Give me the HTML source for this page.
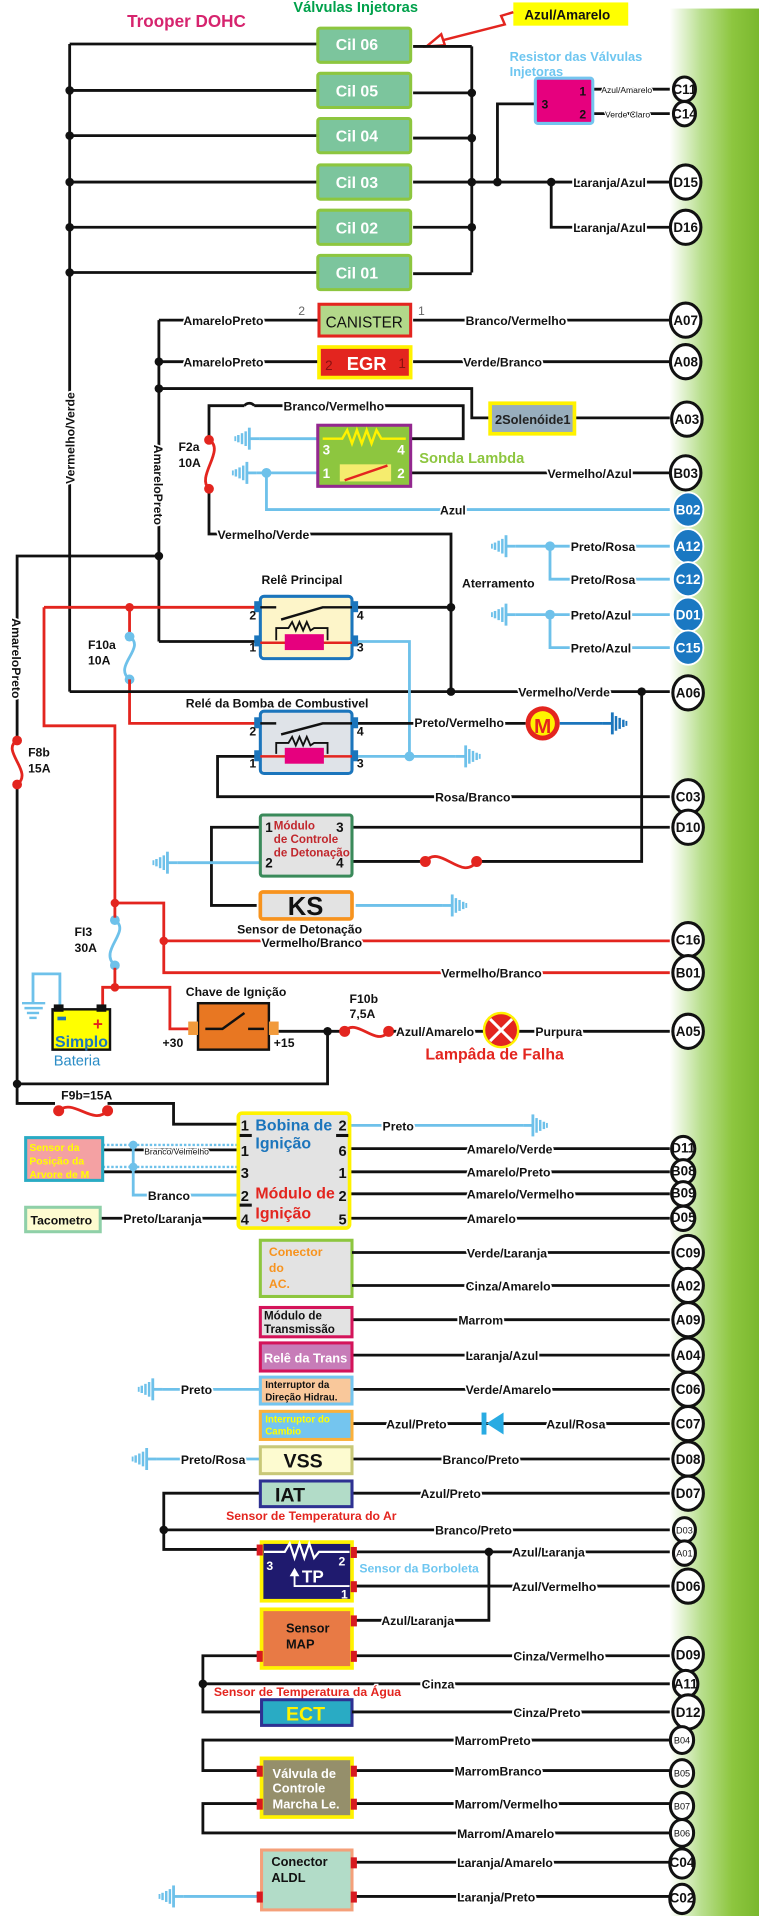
<!DOCTYPE html>
<html><head><meta charset="utf-8"><style>
html,body{margin:0;padding:0;background:#fff;}
svg{display:block;}
text{font-family:"Liberation Sans",sans-serif;}
.l{font-size:10px;font-weight:bold;fill:#111;stroke:#fff;stroke-width:3px;paint-order:stroke;}
.w{fill:none;stroke:#111;stroke-width:2.3;}
.r{fill:none;stroke:#e3251f;stroke-width:2.3;}
.b{fill:none;stroke:#6ec1ea;stroke-width:2.3;}
.c{fill:#fff;stroke:#111;stroke-width:2.5;}
.ct{font-size:11px;font-weight:bold;fill:#111;text-anchor:middle;}
.cs{font-size:7.5px;fill:#111;text-anchor:middle;}
.cb{fill:#1a78c2;stroke:#fff;stroke-width:1.5;}
.cbt{font-size:11px;font-weight:bold;fill:#fff;text-anchor:middle;}
</style></head><body>
<svg width="759" height="1916" viewBox="0 0 621 1568" preserveAspectRatio="none" xmlns="http://www.w3.org/2000/svg">
<defs>
<linearGradient id="gb" x1="0" x2="1" y1="0" y2="0">
<stop offset="0" stop-color="#fff"/><stop offset="0.35" stop-color="#b9df8f"/><stop offset="0.7" stop-color="#8dc63f"/><stop offset="1" stop-color="#7ab82e"/></linearGradient>
<g id="gnd"><line x1="0" y1="0" x2="-8" y2="0" stroke-width="2.3"/><line x1="-8" y1="-9" x2="-8" y2="9" stroke-width="2.3"/><line x1="-11" y1="-6" x2="-11" y2="6" stroke-width="2"/><line x1="-14" y1="-4.5" x2="-14" y2="4.5" stroke-width="2"/><line x1="-17" y1="-3" x2="-17" y2="3" stroke-width="2"/><line x1="-19.5" y1="-2" x2="-19.5" y2="2" stroke-width="1.5"/></g>
</defs>
<rect x="548" y="7" width="73" height="1561" fill="url(#gb)"/>

<!-- header -->
<text x="104" y="22" font-size="14" font-weight="bold" fill="#d6246e">Trooper DOHC</text>
<text x="240" y="10" font-size="12" font-weight="bold" fill="#00a14b">Válvulas Injetoras</text>
<rect x="420" y="2" width="94" height="19" fill="#ffff00"/>
<text x="429" y="16" font-size="11" font-weight="bold" fill="#111">Azul/Amarelo</text>
<polyline points="420,10 410,13 413,20 362,33" fill="none" stroke="#e3251f" stroke-width="2"/>
<polygon points="349,38 361,28 364,37" fill="#fff" stroke="#e3251f" stroke-width="2"/>

<!-- injector buses -->
<line class="w" x1="57" y1="36" x2="57" y2="566"/>
<line class="w" x1="386" y1="38" x2="386" y2="223"/>
<g class="w">
<line x1="57" y1="36" x2="260" y2="36"/><line x1="57" y1="74" x2="260" y2="74"/><line x1="57" y1="111" x2="260" y2="111"/><line x1="57" y1="149" x2="260" y2="149"/><line x1="57" y1="186" x2="260" y2="186"/><line x1="57" y1="223" x2="260" y2="223"/>
<line x1="338" y1="38" x2="386" y2="38"/><line x1="338" y1="76" x2="386" y2="76"/><line x1="338" y1="113" x2="386" y2="113"/><line x1="338" y1="149" x2="548" y2="149"/><line x1="338" y1="186" x2="386" y2="186"/><line x1="338" y1="224" x2="386" y2="224"/>
<polyline points="407,149 407,85 438,85"/><polyline points="451,149 451,186 548,186"/>
</g>
<g fill="#111"><circle cx="57" cy="74" r="3.5"/><circle cx="57" cy="111" r="3.5"/><circle cx="57" cy="149" r="3.5"/><circle cx="57" cy="186" r="3.5"/><circle cx="57" cy="223" r="3.5"/>
<circle cx="386" cy="76" r="3.5"/><circle cx="386" cy="113" r="3.5"/><circle cx="386" cy="149" r="3.5"/><circle cx="386" cy="186" r="3.5"/><circle cx="407" cy="149" r="3.5"/><circle cx="451" cy="149" r="3.5"/></g>
<g>
<rect x="260" y="23" width="76" height="28" rx="2" fill="#7cc59d" stroke="#8dc63f" stroke-width="2.5"/>
<rect x="260" y="60" width="76" height="28" rx="2" fill="#7cc59d" stroke="#8dc63f" stroke-width="2.5"/>
<rect x="260" y="97" width="76" height="28" rx="2" fill="#7cc59d" stroke="#8dc63f" stroke-width="2.5"/>
<rect x="260" y="135" width="76" height="28" rx="2" fill="#7cc59d" stroke="#8dc63f" stroke-width="2.5"/>
<rect x="260" y="172" width="76" height="28" rx="2" fill="#7cc59d" stroke="#8dc63f" stroke-width="2.5"/>
<rect x="260" y="209" width="76" height="28" rx="2" fill="#7cc59d" stroke="#8dc63f" stroke-width="2.5"/>
</g>
<g font-size="13" font-weight="bold" fill="#fff" text-anchor="middle">
<text x="292" y="41">Cil 06</text><text x="292" y="79">Cil 05</text><text x="292" y="116">Cil 04</text><text x="292" y="154">Cil 03</text><text x="292" y="191">Cil 02</text><text x="292" y="228">Cil 01</text></g>
<text class="l" x="469" y="153">Laranja/Azul</text>
<text class="l" x="469" y="190">Laranja/Azul</text>

<!-- resistor -->
<text x="417" y="50" font-size="10.5" fill="#6ec6f0" font-weight="bold">Resistor das Válvulas</text>
<text x="417" y="62" font-size="10.5" fill="#6ec6f0" font-weight="bold">Injetoras</text>
<line class="w" x1="485" y1="73" x2="548" y2="73"/><line class="w" x1="485" y1="93" x2="548" y2="93"/>
<rect x="438" y="64" width="47" height="37" rx="2" fill="#e6007e" stroke="#74c5ef" stroke-width="2.5"/>
<text x="443" y="89" font-size="10" font-weight="bold" fill="#111">3</text><text x="474" y="78" font-size="10" font-weight="bold" fill="#111">1</text><text x="474" y="97" font-size="10" font-weight="bold" fill="#111">2</text>
<text x="492" y="76" font-size="7" fill="#111" stroke="#fff" stroke-width="2" paint-order="stroke">Azul/Amarelo</text>
<text x="495" y="96" font-size="7" fill="#111" stroke="#fff" stroke-width="2" paint-order="stroke">Verde Claro</text>

<!-- canister/egr -->
<line class="w" x1="130" y1="262" x2="130" y2="525"/>
<polyline class="w" points="212,525 130,525"/>
<line class="w" x1="130" y1="262" x2="260" y2="262"/><line class="w" x1="338" y1="262" x2="548" y2="262"/>
<line class="w" x1="130" y1="296" x2="260" y2="296"/><line class="w" x1="338" y1="296" x2="548" y2="296"/>
<polyline class="w" points="130,318 386,318 386,342 401,342"/><line class="w" x1="470" y1="342" x2="548" y2="342"/>
<g fill="#111"><circle cx="130" cy="296" r="3.5"/><circle cx="130" cy="318" r="3.5"/><circle cx="130" cy="455" r="3.5"/></g>
<rect x="261" y="249" width="75" height="26" fill="#b2d88a" stroke="#e3251f" stroke-width="2.5"/>
<text x="298" y="268" font-size="12.5" fill="#111" text-anchor="middle">CANISTER</text>
<text x="244" y="258" font-size="10" fill="#666">2</text><text x="342" y="258" font-size="10" fill="#666">1</text>
<rect x="261" y="284" width="75" height="25" fill="#e3251f" stroke="#fff200" stroke-width="3"/>
<text x="300" y="303" font-size="15" font-weight="bold" fill="#fff" text-anchor="middle">EGR</text>
<text x="266" y="303" font-size="11" fill="#8a1010">2</text><text x="326" y="301" font-size="11" fill="#8a1010">1</text>
<text class="l" x="150" y="266">AmareloPreto</text><text class="l" x="150" y="300">AmareloPreto</text>
<text class="l" x="381" y="266">Branco/Vermelho</text><text class="l" x="379" y="300">Verde/Branco</text>
<rect x="401" y="330" width="69" height="25" fill="#98aebd" stroke="#fff200" stroke-width="3"/>
<text x="405" y="347" font-size="10.5" font-weight="bold" fill="#222">2Solenóide1</text>

<!-- lambda -->
<polyline class="w" points="171,357 171,332 200,332"/>
<path d="M200,332 a5,5 0 0 1 8,0" fill="none" stroke="#111" stroke-width="2.3"/>
<polyline class="w" points="208,332 379,332 379,359 336,359"/>
<text class="l" x="232" y="336">Branco/Vermelho</text>
<polyline class="w" points="171,402 171,437 369,437 369,566"/>
<text class="l" x="178" y="441">Vermelho/Verde</text>
<path d="M171,360 C185,368 160,390 171,400" class="r"/><circle cx="171" cy="360" r="4" fill="#e3251f"/><circle cx="171" cy="400" r="4" fill="#e3251f"/>
<text x="146" y="369" font-size="10" font-weight="bold" fill="#111">F2a</text><text x="146" y="382" font-size="10" font-weight="bold" fill="#111">10A</text>
<line class="b" x1="212" y1="359" x2="260" y2="359"/><use href="#gnd" x="212" y="359" stroke="#6ec1ea"/>
<line class="b" x1="210" y1="387" x2="260" y2="387"/><use href="#gnd" x="210" y="387" stroke="#6ec1ea"/>
<polyline class="b" points="218,387 218,417 548,417"/><circle cx="218" cy="387" r="4" fill="#6ec1ea"/>
<text class="l" x="360" y="421">Azul</text>
<line class="w" x1="336" y1="387" x2="548" y2="387"/><text class="l" x="448" y="391">Vermelho/Azul</text>
<rect x="260" y="348" width="76" height="50" fill="#8dc63f" stroke="#93278f" stroke-width="2.5"/>
<polyline points="264,359 280,359 284,352 288,363 292,352 296,363 300,352 304,363 308,352 312,359 332,359" fill="none" stroke="#fff200" stroke-width="2"/>
<rect x="278" y="380" width="42" height="14" fill="#f5ec6e"/><line x1="282" y1="393" x2="317" y2="381" stroke="#e3251f" stroke-width="2"/>
<g font-size="11" font-weight="bold" fill="#fff"><text x="264" y="372">3</text><text x="325" y="372">4</text><text x="264" y="391">1</text><text x="325" y="391">2</text></g>
<text x="343" y="379" font-size="12" font-weight="bold" fill="#8dc63f">Sonda Lambda</text>

<!-- aterramento -->
<line class="b" x1="422" y1="447" x2="548" y2="447"/><use href="#gnd" x="422" y="447" stroke="#6ec1ea"/>
<polyline class="b" points="450,447 450,474 548,474"/><circle cx="450" cy="447" r="4" fill="#6ec1ea"/>
<line class="b" x1="422" y1="503" x2="548" y2="503"/><use href="#gnd" x="422" y="503" stroke="#6ec1ea"/>
<polyline class="b" points="450,503 450,530 548,530"/><circle cx="450" cy="503" r="4" fill="#6ec1ea"/>
<text class="l" x="467" y="451">Preto/Rosa</text><text class="l" x="467" y="478">Preto/Rosa</text><text class="l" x="467" y="507">Preto/Azul</text><text class="l" x="467" y="534">Preto/Azul</text>
<text class="l" x="378" y="481">Aterramento</text>

<!-- left side -->
<polyline class="w" points="130,455 14,455 14,606"/>
<polyline class="w" points="14,642 14,887 268,887 268,844"/>
<path d="M14,606 C0,614 28,632 14,642" class="r"/><circle cx="14" cy="606" r="4" fill="#e3251f"/><circle cx="14" cy="642" r="4" fill="#e3251f"/>
<text x="23" y="619" font-size="10" font-weight="bold" fill="#111">F8b</text><text x="23" y="632" font-size="10" font-weight="bold" fill="#111">15A</text>
<circle cx="14" cy="887" r="3.5" fill="#111"/>
<text class="l" transform="translate(10,506) rotate(90)">AmareloPreto</text>
<text class="l" transform="translate(61,396) rotate(-90)">Vermelho/Verde</text>
<text class="l" transform="translate(126,364) rotate(90)">AmareloPreto</text>

<!-- rele principal -->
<text x="214" y="478" font-size="10" font-weight="bold" fill="#111">Relê Principal</text>
<polyline class="r" points="36,497 213,497"/>
<polyline class="r" points="36,497 36,594 94,594 94,739"/>
<circle cx="106" cy="497" r="3.5" fill="#e3251f"/>
<line class="r" x1="106" y1="497" x2="106" y2="519"/>
<path d="M106,521 C120,530 92,545 106,556" class="b"/><circle cx="106" cy="521" r="4" fill="#6ec1ea"/><circle cx="106" cy="556" r="4" fill="#6ec1ea"/>
<polyline class="r" points="106,556 106,592 213,592"/>
<text x="72" y="531" font-size="10" font-weight="bold" fill="#111">F10a</text><text x="72" y="544" font-size="10" font-weight="bold" fill="#111">10A</text>
<polyline class="w" points="288,497 369,497"/><circle cx="369" cy="497" r="3.5" fill="#111"/>
<polyline class="w" points="57,566 548,566"/><circle cx="369" cy="566" r="3.5" fill="#111"/><circle cx="525" cy="566" r="3.5" fill="#111"/>
<text class="l" x="424" y="570">Vermelho/Verde</text>
<polyline class="b" points="288,525 335,525 335,619 373,619"/><use href="#gnd" x="373" y="619" stroke="#6ec1ea" transform="translate(746,0) scale(-1,1)"/>
<line class="b" x1="288" y1="619" x2="335" y2="619"/><circle cx="335" cy="619" r="4" fill="#6ec1ea"/>
<rect x="213" y="488" width="75" height="51" rx="3" fill="#fdf5c9" stroke="#1b75bc" stroke-width="2.5"/>
<g fill="#1b75bc"><rect x="208" y="492" width="6" height="9"/><rect x="208" y="520" width="6" height="9"/><rect x="287" y="492" width="6" height="9"/><rect x="287" y="520" width="6" height="9"/></g>
<line x1="213" y1="497" x2="226" y2="497" stroke="#111" stroke-width="2"/><polyline points="230,507 264,497 288,497" fill="none" stroke="#111" stroke-width="2"/>
<line x1="213" y1="526" x2="288" y2="526" stroke="#e3251f" stroke-width="2"/>
<polyline points="226,524 226,514 236,514 239,509 242,516 245,509 248,516 251,509 254,516 257,514 268,514 268,524" fill="none" stroke="#111" stroke-width="1.5"/>
<rect x="233" y="519" width="32" height="13" fill="#e6007e"/>
<g font-size="10" font-weight="bold" fill="#111"><text x="204" y="507">2</text><text x="204" y="533">1</text><text x="292" y="507">4</text><text x="292" y="533">3</text></g>

<!-- rele bomba -->
<text x="152" y="579" font-size="10" font-weight="bold" fill="#111">Relé da Bomba de Combustivel</text>
<line class="w" x1="288" y1="592" x2="430" y2="592"/><text class="l" x="339" y="595">Preto/Vermelho</text>
<circle cx="444" cy="592" r="14" fill="#e3251f"/><circle cx="444" cy="592" r="10" fill="#fff200"/>
<text x="444" y="600" font-size="17" font-weight="bold" fill="#e3251f" text-anchor="middle">M</text>
<line x1="458" y1="592" x2="493" y2="592" stroke="#1b75bc" stroke-width="2.3"/><use href="#gnd" x="493" y="592" stroke="#1b75bc" transform="translate(986,0) scale(-1,1)"/>
<polyline class="w" points="213,619 178,619 178,652 548,652"/><text class="l" x="356" y="656">Rosa/Branco</text>
<rect x="213" y="582" width="75" height="51" rx="3" fill="#dfe3e8" stroke="#1b75bc" stroke-width="2.5"/>
<g fill="#1b75bc"><rect x="208" y="587" width="6" height="9"/><rect x="208" y="614" width="6" height="9"/><rect x="287" y="587" width="6" height="9"/><rect x="287" y="614" width="6" height="9"/></g>
<line x1="213" y1="592" x2="226" y2="592" stroke="#111" stroke-width="2"/><polyline points="230,601 264,592 288,592" fill="none" stroke="#111" stroke-width="2"/>
<line x1="213" y1="619" x2="288" y2="619" stroke="#e3251f" stroke-width="2"/>
<polyline points="226,617 226,608 236,608 239,603 242,610 245,603 248,610 251,603 254,610 257,608 268,608 268,617" fill="none" stroke="#111" stroke-width="1.5"/>
<rect x="233" y="612" width="32" height="13" fill="#e6007e"/>
<g font-size="10" font-weight="bold" fill="#111"><text x="204" y="602">2</text><text x="204" y="628">1</text><text x="292" y="602">4</text><text x="292" y="628">3</text></g>

<!-- knock module -->
<polyline class="w" points="213,677 173,677 173,741 210,741"/>
<line class="w" x1="288" y1="677" x2="548" y2="677"/>
<polyline class="w" points="288,705 348,705"/><polyline class="w" points="390,705 525,705 525,566"/>
<path d="M348,705 C360,690 378,722 390,705" class="r"/><circle cx="348" cy="705" r="4.5" fill="#e3251f"/><circle cx="390" cy="705" r="4.5" fill="#e3251f"/>
<line class="b" x1="145" y1="706" x2="213" y2="706"/><use href="#gnd" x="145" y="706" stroke="#6ec1ea"/>
<rect x="213" y="667" width="75" height="50" rx="2" fill="#e3e3e3" stroke="#3a8a5a" stroke-width="2.5"/>
<g font-size="9.5" fill="#c1272d" font-weight="bold"><text x="224" y="679">Módulo</text><text x="224" y="690">de Controle</text><text x="224" y="701">de Detonação</text></g>
<g font-size="11" font-weight="bold" fill="#111"><text x="217" y="681">1</text><text x="217" y="710">2</text><text x="275" y="681">3</text><text x="275" y="710">4</text></g>
<line class="b" x1="291" y1="741" x2="362" y2="741"/><use href="#gnd" x="362" y="741" stroke="#6ec1ea" transform="translate(724,0) scale(-1,1)"/>
<rect x="213" y="730" width="75" height="22" rx="2" fill="#e3e3e3" stroke="#f7931e" stroke-width="3"/>
<text x="250" y="749" font-size="21" font-weight="bold" fill="#111" text-anchor="middle">KS</text>
<text x="194" y="764" font-size="10" font-weight="bold" fill="#111">Sensor de Detonação</text>

<!-- red power -->
<circle cx="94" cy="739" r="3.5" fill="#e3251f"/>
<polyline class="r" points="94,739 134,739 134,796 548,796"/><line class="r" x1="134" y1="770" x2="548" y2="770"/><circle cx="134" cy="770" r="3.5" fill="#e3251f"/>
<text class="l" x="214" y="775">Vermelho/Branco</text><text class="l" x="361" y="800">Vermelho/Branco</text>
<path d="M94,753 C108,762 80,778 94,790" class="b"/><circle cx="94" cy="753" r="4" fill="#6ec1ea"/><circle cx="94" cy="790" r="4" fill="#6ec1ea"/>
<line class="r" x1="94" y1="739" x2="94" y2="751"/><line class="r" x1="94" y1="792" x2="94" y2="808"/>
<text x="61" y="766" font-size="10" font-weight="bold" fill="#111">FI3</text><text x="61" y="779" font-size="10" font-weight="bold" fill="#111">30A</text>
<circle cx="94" cy="808" r="3.5" fill="#e3251f"/>
<polyline class="r" points="94,808 84,808 84,827"/>
<polyline class="r" points="94,808 139,808 139,842 158,842"/>
<!-- battery -->
<polyline class="b" points="49,827 49,797 27,797 27,820"/>
<g stroke="#6ec1ea" stroke-width="2"><line x1="18" y1="821" x2="37" y2="821"/><line x1="20" y1="825" x2="35" y2="825"/><line x1="22" y1="829" x2="32" y2="829"/><line x1="24" y1="833" x2="30" y2="833"/></g>
<rect x="43" y="826" width="47" height="33" fill="#ffff00" stroke="#111" stroke-width="2"/>
<rect x="44" y="822" width="8" height="6" fill="#111"/><rect x="79" y="822" width="8" height="6" fill="#111"/>
<rect x="47" y="832" width="7" height="3" fill="#1b75bc"/>
<text x="76" y="843" font-size="14" font-weight="bold" fill="#e3251f">+</text>
<text x="45" y="857" font-size="13" font-weight="bold" fill="#1b75bc">Simplo</text>
<text x="44" y="872" font-size="12" fill="#2a8cc6">Bateria</text>
<!-- switch -->
<text x="152" y="815" font-size="10" font-weight="bold" fill="#111">Chave de Ignição</text>
<rect x="162" y="821" width="58" height="38" fill="#e87722" stroke="#111" stroke-width="2"/>
<rect x="154" y="836" width="8" height="11" fill="#f29a3b"/><rect x="220" y="836" width="8" height="11" fill="#f29a3b"/>
<polyline points="168,842 182,842 200,829" fill="none" stroke="#111" stroke-width="2"/><line x1="203" y1="842" x2="216" y2="842" stroke="#111" stroke-width="2"/>
<text x="133" y="857" font-size="10" font-weight="bold" fill="#111">+30</text><text x="224" y="857" font-size="10" font-weight="bold" fill="#111">+15</text>
<line class="w" x1="228" y1="844" x2="282" y2="844"/><circle cx="268" cy="844" r="3.5" fill="#111"/>
<path d="M282,844 C292,832 308,858 318,844" class="r"/><circle cx="282" cy="844" r="4.5" fill="#e3251f"/><circle cx="318" cy="844" r="4.5" fill="#e3251f"/>
<text x="286" y="821" font-size="10" font-weight="bold" fill="#111">F10b</text><text x="286" y="833" font-size="10" font-weight="bold" fill="#111">7,5A</text>
<line class="w" x1="322" y1="844" x2="548" y2="844"/>
<text class="l" x="324" y="848">Azul/Amarelo</text>
<circle cx="410" cy="843" r="14" fill="#e3251f" stroke="#fff200" stroke-width="2"/>
<line x1="401" y1="834" x2="419" y2="852" stroke="#fff" stroke-width="2.5"/><line x1="419" y1="834" x2="401" y2="852" stroke="#fff" stroke-width="2.5"/>
<text class="l" x="438" y="848">Purpura</text>
<text x="348" y="867" font-size="13" font-weight="bold" fill="#e3251f">Lampâda de Falha</text>

<!-- F9b and ignition -->
<polyline class="w" points="14,887 14,903 45,903"/>
<path d="M48,909 C60,898 76,922 88,909" class="r"/><circle cx="48" cy="909" r="4.5" fill="#e3251f"/><circle cx="88" cy="909" r="4.5" fill="#e3251f"/>
<text x="50" y="900" font-size="10" font-weight="bold" fill="#111">F9b=15A</text>
<polyline class="w" points="88,903 142,903 142,920 194,920"/>
<line class="b" x1="286" y1="921" x2="428" y2="921"/><use href="#gnd" x="428" y="921" stroke="#6ec1ea" transform="translate(856,0) scale(-1,1)"/>
<text class="l" x="313" y="925">Preto</text>
<g class="w"><line x1="286" y1="940" x2="548" y2="940"/><line x1="286" y1="959" x2="548" y2="959"/><line x1="286" y1="977" x2="548" y2="977"/><line x1="286" y1="997" x2="548" y2="997"/></g>
<text class="l" x="382" y="944">Amarelo/Verde</text><text class="l" x="382" y="963">Amarelo/Preto</text><text class="l" x="382" y="981">Amarelo/Vermelho</text><text class="l" x="382" y="1001">Amarelo</text>
<line class="w" x1="84" y1="941" x2="194" y2="941"/><line class="w" x1="84" y1="959" x2="194" y2="959"/>
<line x1="84" y1="937" x2="194" y2="937" stroke="#6ec1ea" stroke-width="2" stroke-dasharray="2,1.5"/>
<line x1="84" y1="955" x2="194" y2="955" stroke="#6ec1ea" stroke-width="2" stroke-dasharray="2,1.5"/>
<polyline class="b" points="109,937 109,978 194,978"/><circle cx="109" cy="937" r="3.5" fill="#6ec1ea"/><circle cx="109" cy="955" r="3.5" fill="#6ec1ea"/>
<text x="118" y="945" font-size="7" fill="#111" stroke="#fff" stroke-width="2" paint-order="stroke">Branco/Velmelho</text>
<text class="l" x="121" y="982">Branco</text>
<rect x="21" y="931" width="63" height="35" fill="#f4a1a3" stroke="#29abc4" stroke-width="2.5"/>
<g font-size="8.5" font-weight="bold" fill="#ffff00"><text x="24" y="942">Sensor da</text><text x="24" y="953">Posição da</text><text x="24" y="964">Arvore de M</text></g>
<line class="w" x1="83" y1="997" x2="194" y2="997"/><text class="l" x="101" y="1001">Preto/Laranja</text>
<rect x="21" y="988" width="61" height="20" fill="#fdfbd0" stroke="#8fd0a8" stroke-width="2.5"/>
<text x="25" y="1002" font-size="10" font-weight="bold" fill="#111">Tacometro</text>
<rect x="195" y="911" width="91" height="94" rx="3" fill="#e3e3e3" stroke="#fff200" stroke-width="3"/>
<text x="209" y="925" font-size="13" font-weight="bold" fill="#1b75bc">Bobina de</text><text x="209" y="940" font-size="13" font-weight="bold" fill="#1b75bc">Ignição</text>
<text x="209" y="981" font-size="13" font-weight="bold" fill="#e3251f">Módulo de</text><text x="209" y="997" font-size="13" font-weight="bold" fill="#e3251f">Ignição</text>
<g font-size="12" font-weight="bold" fill="#111"><text x="197" y="925">1</text><text x="197" y="946">1</text><text x="197" y="964">3</text><text x="197" y="983">2</text><text x="197" y="1002">4</text>
<text x="277" y="925">2</text><text x="277" y="946">6</text><text x="277" y="964">1</text><text x="277" y="983">2</text><text x="277" y="1002">5</text></g>
<g fill="#111"><rect x="196" y="928" width="10" height="2.5"/><rect x="196" y="985" width="10" height="2.5"/><rect x="275" y="928" width="10" height="2.5"/></g>

<!-- AC and below -->
<rect x="213" y="1015" width="75" height="46" fill="#e3e3e3" stroke="#8dc63f" stroke-width="2.5"/>
<g font-size="10" font-weight="bold" fill="#f7931e"><text x="220" y="1028">Conector</text><text x="220" y="1041">do</text><text x="220" y="1054">AC.</text></g>
<g class="w"><line x1="288" y1="1025" x2="548" y2="1025"/><line x1="288" y1="1052" x2="548" y2="1052"/><line x1="288" y1="1080" x2="548" y2="1080"/><line x1="288" y1="1109" x2="548" y2="1109"/><line x1="288" y1="1137" x2="548" y2="1137"/><line x1="288" y1="1165" x2="548" y2="1165"/><line x1="288" y1="1194" x2="548" y2="1194"/><line x1="288" y1="1222" x2="548" y2="1222"/></g>
<text class="l" x="382" y="1029">Verde/Laranja</text><text class="l" x="381" y="1056">Cinza/Amarelo</text>
<rect x="213" y="1070" width="75" height="24" fill="#e3e3e3" stroke="#d4145a" stroke-width="2.5"/>
<g font-size="9.5" font-weight="bold" fill="#111"><text x="216" y="1080">Módulo de</text><text x="216" y="1091">Transmissão</text></g>
<text class="l" x="375" y="1084">Marrom</text>
<rect x="213" y="1099" width="75" height="23" fill="#c77cb8" stroke="#d4145a" stroke-width="2.5"/>
<text x="250" y="1115" font-size="10.5" font-weight="bold" fill="#fff" text-anchor="middle">Relê da Trans</text>
<text class="l" x="381" y="1113">Laranja/Azul</text>
<line class="b" x1="133" y1="1137" x2="213" y2="1137"/><use href="#gnd" x="133" y="1137" stroke="#6ec1ea"/><text class="l" x="148" y="1141">Preto</text>
<rect x="213" y="1127" width="75" height="22" fill="#f9c89b" stroke="#74c5ef" stroke-width="2.5"/>
<g font-size="8" font-weight="bold" fill="#111"><text x="217" y="1136">Interruptor da</text><text x="217" y="1146">Direção Hidrau.</text></g>
<text class="l" x="381" y="1141">Verde/Amarelo</text>
<rect x="213" y="1155" width="75" height="23" fill="#74c5ef" stroke="#fbb03b" stroke-width="2.5"/>
<g font-size="8" font-weight="bold" fill="#ffff00"><text x="217" y="1164">Interruptor do</text><text x="217" y="1174">Cambio</text></g>
<text class="l" x="316" y="1169">Azul/Preto</text><text class="l" x="447" y="1169">Azul/Rosa</text>
<rect x="394" y="1156" width="4" height="18" fill="#29abe2"/><polygon points="398,1165 412,1156 412,1174" fill="#29abe2" stroke="#fff" stroke-width="0"/>
<line class="b" x1="128" y1="1194" x2="213" y2="1194"/><use href="#gnd" x="128" y="1194" stroke="#6ec1ea"/><text class="l" x="148" y="1198">Preto/Rosa</text>
<rect x="213" y="1184" width="75" height="22" fill="#fdfbd0" stroke="#c8c878" stroke-width="2.5"/>
<text x="248" y="1201" font-size="16" font-weight="bold" fill="#111" text-anchor="middle">VSS</text>
<text class="l" x="362" y="1198">Branco/Preto</text>
<polyline class="w" points="213,1222 134,1222 134,1268 214,1268"/><circle cx="134" cy="1252" r="3.5" fill="#111"/>
<line class="w" x1="134" y1="1252" x2="548" y2="1252"/><text class="l" x="356" y="1256">Branco/Preto</text>
<rect x="213" y="1212" width="75" height="21" fill="#b2dcc8" stroke="#2e3192" stroke-width="2.5"/>
<text x="225" y="1229" font-size="16" font-weight="bold" fill="#111">IAT</text>
<text class="l" x="344" y="1226">Azul/Preto</text>
<text x="185" y="1244" font-size="10" font-weight="bold" fill="#e3251f">Sensor de Temperatura do Ar</text>
<polyline class="w" points="288,1270 548,1270"/><circle cx="400" cy="1270" r="3.5" fill="#111"/>
<polyline class="w" points="400,1270 400,1326 288,1326"/>
<line class="w" x1="288" y1="1298" x2="548" y2="1298"/>
<text class="l" x="419" y="1274">Azul/Laranja</text><text class="l" x="419" y="1302">Azul/Vermelho</text><text class="l" x="312" y="1330">Azul/Laranja</text>
<rect x="214" y="1262" width="74" height="48" fill="#1f1a6e" stroke="#fff200" stroke-width="3"/>
<polyline points="216,1270 233,1270 237,1263 241,1275 245,1263 249,1275 253,1263 257,1275 261,1270 286,1270" fill="none" stroke="#fff" stroke-width="1.8"/>
<polyline points="241,1288 241,1298 286,1298" fill="none" stroke="#fff" stroke-width="1.5"/><polygon points="237,1290 241,1283 245,1290" fill="#fff"/>
<text x="247" y="1295" font-size="14" font-weight="bold" fill="#fff">TP</text>
<g font-size="10" font-weight="bold" fill="#fff"><text x="218" y="1285">3</text><text x="277" y="1281">2</text><text x="279" y="1308">1</text></g>
<text x="294" y="1287" font-size="10" font-weight="bold" fill="#6ec6f0">Sensor da Borboleta</text>
<rect x="214" y="1317" width="74" height="48" fill="#e87a45" stroke="#fff200" stroke-width="3"/>
<g font-size="10.5" font-weight="bold" fill="#111"><text x="234" y="1336">Sensor</text><text x="234" y="1349">MAP</text></g>
<polyline class="w" points="214,1355 166,1355 166,1401 214,1401"/><circle cx="166" cy="1378" r="3.5" fill="#111"/>
<line class="w" x1="288" y1="1355" x2="548" y2="1355"/><text class="l" x="420" y="1359">Cinza/Vermelho</text>
<line class="w" x1="166" y1="1378" x2="548" y2="1378"/><text class="l" x="345" y="1382">Cinza</text>
<text x="175" y="1388" font-size="10" font-weight="bold" fill="#e3251f" stroke="#fff" stroke-width="2.5" paint-order="stroke">Sensor de Temperatura da Água</text>
<rect x="214" y="1391" width="74" height="21" fill="#29abc4" stroke="#2e3192" stroke-width="2.5"/>
<text x="250" y="1408" font-size="16" font-weight="bold" fill="#fff200" text-anchor="middle">ECT</text>
<line class="w" x1="288" y1="1401" x2="548" y2="1401"/><text class="l" x="420" y="1405">Cinza/Preto</text>
<polyline class="w" points="548,1424 166,1424 166,1449 214,1449"/>
<line class="w" x1="288" y1="1449" x2="548" y2="1449"/>
<polyline class="w" points="214,1476 166,1476 166,1500 548,1500"/>
<line class="w" x1="288" y1="1476" x2="548" y2="1476"/>
<text class="l" x="372" y="1428">MarromPreto</text><text class="l" x="372" y="1453">MarromBranco</text><text class="l" x="372" y="1480">Marrom/Vermelho</text><text class="l" x="374" y="1504">Marrom/Amarelo</text>
<rect x="214" y="1439" width="74" height="48" fill="#958f6b" stroke="#fff200" stroke-width="3"/>
<g font-size="10.5" font-weight="bold" fill="#fff"><text x="223" y="1455">Válvula de</text><text x="223" y="1467">Controle</text><text x="223" y="1480">Marcha Le.</text></g>
<line class="w" x1="288" y1="1524" x2="548" y2="1524"/><line class="w" x1="288" y1="1552" x2="548" y2="1552"/>
<text class="l" x="374" y="1528">Laranja/Amarelo</text><text class="l" x="374" y="1556">Laranja/Preto</text>
<line class="b" x1="150" y1="1552" x2="214" y2="1552"/><use href="#gnd" x="150" y="1552" stroke="#6ec1ea"/>
<rect x="214" y="1514" width="74" height="49" fill="#b2dcc8" stroke="#f4a07a" stroke-width="2.5"/>
<g font-size="10.5" font-weight="bold" fill="#111"><text x="222" y="1527">Conector</text><text x="222" y="1540">ALDL</text></g>
<g fill="#d71920"><rect x="210" y="1445" width="5" height="9"/><rect x="287" y="1445" width="5" height="9"/><rect x="210" y="1472" width="5" height="9"/><rect x="287" y="1472" width="5" height="9"/><rect x="287" y="1520" width="5" height="9"/><rect x="287" y="1548" width="5" height="9"/><rect x="210" y="1548" width="5" height="9"/>
<rect x="287" y="1322" width="5" height="9"/><rect x="287" y="1351" width="5" height="9"/><rect x="210" y="1351" width="5" height="9"/><rect x="287" y="1266" width="5" height="9"/><rect x="287" y="1294" width="5" height="9"/><rect x="210" y="1264" width="5" height="9"/></g>

<!-- connectors -->
<g>
<ellipse class="c" cx="560" cy="73" rx="9" ry="10"/><text class="ct" x="560" y="77" font-size="10">C11</text>
<ellipse class="c" cx="560" cy="93" rx="9" ry="10"/><text class="ct" x="560" y="97" font-size="10">C14</text>
<ellipse class="c" cx="561" cy="149" rx="12.5" ry="14"/><text class="ct" x="561" y="153">D15</text>
<ellipse class="c" cx="561" cy="186" rx="12.5" ry="14"/><text class="ct" x="561" y="190">D16</text>
<ellipse class="c" cx="561" cy="262" rx="12.5" ry="14"/><text class="ct" x="561" y="266">A07</text>
<ellipse class="c" cx="561" cy="296" rx="12.5" ry="14"/><text class="ct" x="561" y="300">A08</text>
<ellipse class="c" cx="562" cy="343" rx="12.5" ry="14"/><text class="ct" x="562" y="347">A03</text>
<ellipse class="c" cx="561" cy="387" rx="12.5" ry="14"/><text class="ct" x="561" y="391">B03</text>
<ellipse class="cb" cx="563" cy="417" rx="12.5" ry="14"/><text class="cbt" x="563" y="421">B02</text>
<ellipse class="cb" cx="563" cy="447" rx="12.5" ry="14"/><text class="cbt" x="563" y="451">A12</text>
<ellipse class="cb" cx="563" cy="474" rx="12.5" ry="14"/><text class="cbt" x="563" y="478">C12</text>
<ellipse class="cb" cx="563" cy="503" rx="12.5" ry="14"/><text class="cbt" x="563" y="507">D01</text>
<ellipse class="cb" cx="563" cy="530" rx="12.5" ry="14"/><text class="cbt" x="563" y="534">C15</text>
<ellipse class="c" cx="563" cy="567" rx="12.5" ry="14"/><text class="ct" x="563" y="571">A06</text>
<ellipse class="c" cx="563" cy="652" rx="12.5" ry="14"/><text class="ct" x="563" y="656">C03</text>
<ellipse class="c" cx="563" cy="677" rx="12.5" ry="14"/><text class="ct" x="563" y="681">D10</text>
<ellipse class="c" cx="563" cy="769" rx="12.5" ry="14"/><text class="ct" x="563" y="773">C16</text>
<ellipse class="c" cx="563" cy="796" rx="12.5" ry="14"/><text class="ct" x="563" y="800">B01</text>
<ellipse class="c" cx="563" cy="844" rx="12.5" ry="14"/><text class="ct" x="563" y="848">A05</text>
<ellipse class="c" cx="559" cy="940" rx="9.5" ry="10"/><text class="ct" x="559" y="943" font-size="8">D11</text>
<ellipse class="c" cx="559" cy="959" rx="9.5" ry="10"/><text class="ct" x="559" y="962" font-size="8">B08</text>
<ellipse class="c" cx="559" cy="977" rx="9.5" ry="10"/><text class="ct" x="559" y="980" font-size="8">B09</text>
<ellipse class="c" cx="559" cy="997" rx="9.5" ry="10"/><text class="ct" x="559" y="1000" font-size="8">D05</text>
<ellipse class="c" cx="563" cy="1025" rx="12.5" ry="14"/><text class="ct" x="563" y="1029">C09</text>
<ellipse class="c" cx="563" cy="1052" rx="12.5" ry="14"/><text class="ct" x="563" y="1056">A02</text>
<ellipse class="c" cx="563" cy="1080" rx="12.5" ry="14"/><text class="ct" x="563" y="1084">A09</text>
<ellipse class="c" cx="563" cy="1109" rx="12.5" ry="14"/><text class="ct" x="563" y="1113">A04</text>
<ellipse class="c" cx="563" cy="1137" rx="12.5" ry="14"/><text class="ct" x="563" y="1141">C06</text>
<ellipse class="c" cx="563" cy="1165" rx="12.5" ry="14"/><text class="ct" x="563" y="1169">C07</text>
<ellipse class="c" cx="563" cy="1194" rx="12.5" ry="14"/><text class="ct" x="563" y="1198">D08</text>
<ellipse class="c" cx="563" cy="1222" rx="12.5" ry="14"/><text class="ct" x="563" y="1226">D07</text>
<ellipse class="c" cx="560" cy="1252" rx="9" ry="10"/><text class="cs" x="560" y="1255">D03</text>
<ellipse class="c" cx="560" cy="1271" rx="9" ry="10"/><text class="cs" x="560" y="1274">A01</text>
<ellipse class="c" cx="563" cy="1298" rx="12.5" ry="14"/><text class="ct" x="563" y="1302">D06</text>
<ellipse class="c" cx="563" cy="1354" rx="12.5" ry="14"/><text class="ct" x="563" y="1358">D09</text>
<ellipse class="c" cx="561" cy="1378" rx="10" ry="11"/><text class="ct" x="561" y="1382" font-size="9">A11</text>
<ellipse class="c" cx="563" cy="1401" rx="12.5" ry="14"/><text class="ct" x="563" y="1405">D12</text>
<ellipse class="c" cx="558" cy="1424" rx="9.5" ry="11"/><text class="cs" x="558" y="1427">B04</text>
<ellipse class="c" cx="558" cy="1451" rx="9.5" ry="11"/><text class="cs" x="558" y="1454">B05</text>
<ellipse class="c" cx="558" cy="1478" rx="9.5" ry="11"/><text class="cs" x="558" y="1481">B07</text>
<ellipse class="c" cx="558" cy="1500" rx="9.5" ry="11"/><text class="cs" x="558" y="1503">B06</text>
<ellipse class="c" cx="558" cy="1525" rx="10" ry="12"/><text class="ct" x="558" y="1528" font-size="8.5">C04</text>
<ellipse class="c" cx="558" cy="1554" rx="10" ry="12"/><text class="ct" x="558" y="1557" font-size="8.5">C02</text>
</g>
</svg>
</body></html>
